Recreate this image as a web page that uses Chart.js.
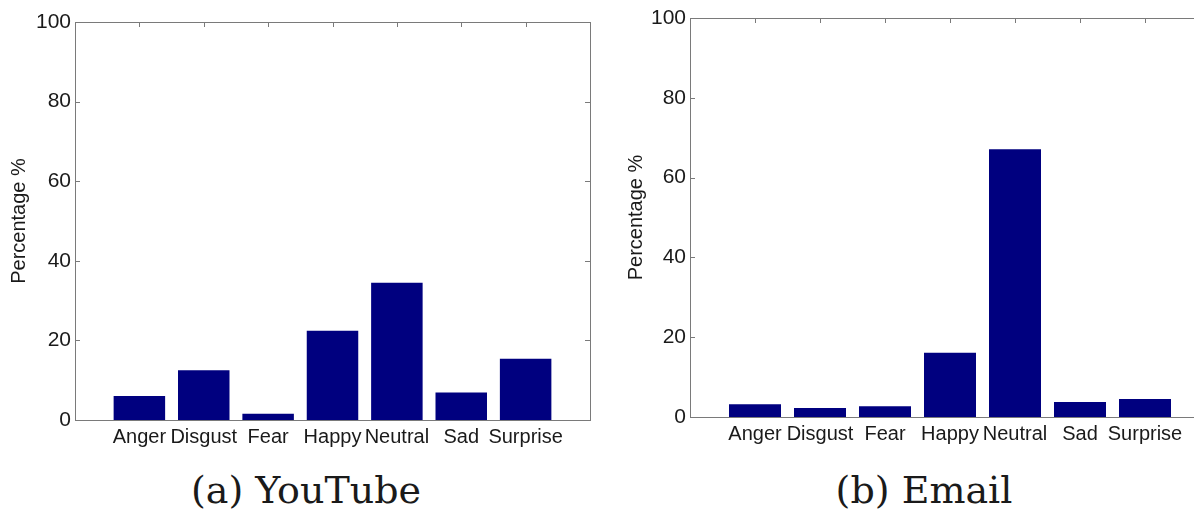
<!DOCTYPE html>
<html>
<head>
<meta charset="utf-8">
<script src="https://cdn.jsdelivr.net/npm/chart.js@4/dist/chart.umd.min.js"></script>
<style>
  html, body { margin: 0; padding: 0; background: #fff; overflow: hidden; width: 1194px; height: 511px; }
  #left { position: absolute; left: 0; top: 0; }
  #right { position: absolute; left: 600px; top: 0; }
  .cap { position: absolute; width: 400px; text-align: center; font-family: "DejaVu Serif", serif; font-size: 38px; line-height: 1; color: #1a1a1a; white-space: nowrap; }
</style>
</head>
<body>
<canvas id="left" width="600" height="460"></canvas>
<canvas id="right" width="620" height="460"></canvas>
<div class="cap" style="left:106px; top:471px;">(a) YouTube</div>
<div class="cap" style="left:724px; top:471px;">(b) Email</div>
<script>
  const categories = ['Anger', 'Disgust', 'Fear', 'Happy', 'Neutral', 'Sad', 'Surprise'];
  const youtubeValues = [6.0, 12.5, 1.6, 22.4, 34.5, 6.9, 15.4];
  const emailValues = [3.2, 2.25, 2.7, 16.1, 67.1, 3.75, 4.5];
  const yMin = 0, yMax = 100, yStep = 20;

  const barColor = '#00007f';
  const axisColor = '#7a7a7a';
  const textColor = '#1a1a1a';

  // matlab style box, inward ticks sit under the bars
  const boxTicks = {
    id: 'boxTicks',
    beforeDatasetsDraw(chart) {
      const { ctx, chartArea: a, scales: { x, y } } = chart;
      ctx.save();
      ctx.strokeStyle = axisColor;
      ctx.lineWidth = 1;
      ctx.beginPath();
      y.ticks.forEach(t => {
        const py = Math.round(y.getPixelForValue(t.value)) + 0.5;
        ctx.moveTo(a.left, py); ctx.lineTo(a.left + 5, py);
        ctx.moveTo(a.right, py); ctx.lineTo(a.right - 5, py);
      });
      x.ticks.forEach(t => {
        if (t.value < 1 || t.value > categories.length) return;
        const px = Math.round(x.getPixelForValue(t.value)) + 0.5;
        ctx.moveTo(px, a.bottom); ctx.lineTo(px, a.bottom - 5);
        ctx.moveTo(px, a.top); ctx.lineTo(px, a.top + 5);
      });
      ctx.stroke();
      ctx.restore();
    },
    afterDatasetsDraw(chart) {
      const { ctx, chartArea: a } = chart;
      ctx.save();
      ctx.strokeStyle = axisColor;
      ctx.lineWidth = 1;
      ctx.strokeRect(Math.round(a.left) + 0.5, Math.round(a.top) + 0.5, Math.round(a.right - a.left), Math.round(a.bottom - a.top));
      ctx.restore();
    }
  };

  function makeChart(id, values, opts) {
    const points = values.map((v, i) => ({ x: i + 1, y: v }));
    return new Chart(document.getElementById(id), {
      type: 'bar',
      data: {
        datasets: [{
          data: points,
          backgroundColor: barColor,
          borderWidth: 0,
          categoryPercentage: 0.8,
          barPercentage: 1
        }]
      },
      options: {
        responsive: false,
        animation: false,
        layout: { padding: { top: opts.top, right: 10, left: 0, bottom: 0 } },
        plugins: { legend: { display: false }, tooltip: { enabled: false } },
        scales: {
          x: {
            type: 'linear',
            offset: false,
            min: 0,
            max: categories.length + 1,
            grid: { display: false, drawTicks: false },
            border: { display: false },
            afterFit: s => { s.height = opts.xHeight; },
            ticks: {
              stepSize: 1,
              autoSkip: false,
              maxRotation: 0,
              padding: 5,
              color: textColor,
              font: { family: 'Liberation Sans', size: 20 },
              callback: v => categories[v - 1] || ''
            }
          },
          y: {
            min: yMin,
            max: yMax,
            grid: { display: false, drawTicks: false },
            border: { display: false },
            afterFit: s => { s.width = opts.yWidth; },
            ticks: {
              stepSize: yStep,
              padding: 4,
              color: textColor,
              font: { family: 'Liberation Sans', size: 21 }
            },
            title: {
              display: true,
              text: 'Percentage %',
              color: textColor,
              padding: { top: opts.titlePad, bottom: 0 },
              font: { family: 'Liberation Sans', size: 20 }
            }
          }
        }
      },
      plugins: [boxTicks]
    });
  }

  makeChart('left', youtubeValues, { top: 22, xHeight: 40, yWidth: 75, titlePad: 7 });
  makeChart('right', emailValues, { top: 18, xHeight: 43, yWidth: 90, titlePad: 24 });
</script>
</body>
</html>
